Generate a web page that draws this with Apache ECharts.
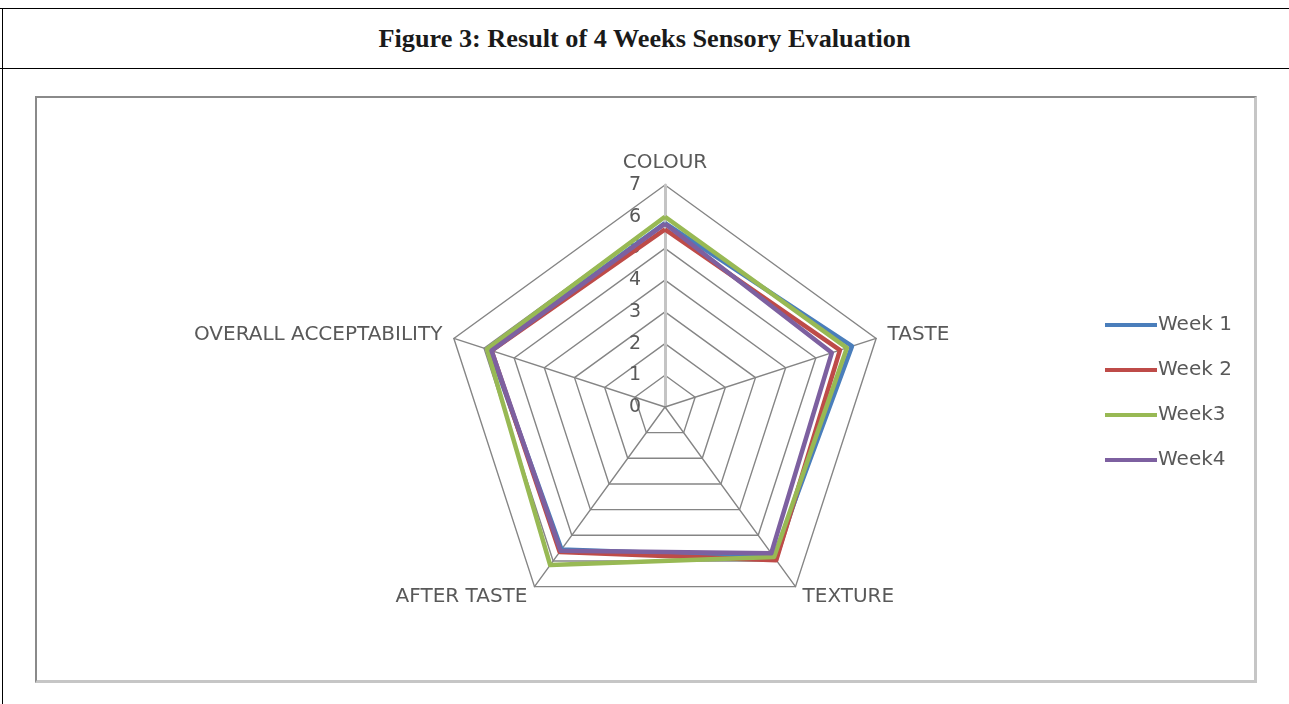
<!DOCTYPE html>
<html>
<head>
<meta charset="utf-8">
<script src="https://cdn.jsdelivr.net/npm/echarts@6/dist/echarts.min.js"></script>
<style>
  html, body { margin: 0; padding: 0; background: #fff; }
  #page { position: relative; width: 1289px; height: 704px; overflow: hidden; }
  .hline { position: absolute; left: 0; width: 1289px; height: 1px; background: #000; }
  .vline { position: absolute; width: 1px; background: #000; }
  #title { position: absolute; left: 0; top: 8px; width: 1289px; height: 60px; line-height: 62px;
           text-align: center; font-family: "Liberation Serif", "DejaVu Serif", serif; font-weight: bold;
           font-size: 25px; color: #1a1a1a; transform: scaleX(1.05); }
  #box { position: absolute; left: 35px; top: 96px; width: 1217px; height: 582px;
         border-top: 2px solid #8a8a8a; border-left: 2px solid #8a8a8a;
         border-right: 3px solid #c6c6c6; border-bottom: 3px solid #c6c6c6; }
  #chart { position: absolute; left: 0; top: 0; width: 1289px; height: 704px; }
</style>
</head>
<body>
<div id="page">
  <div class="hline" style="top:8px"></div>
  <div class="hline" style="top:68px"></div>
  <div class="vline" style="left:2px; top:8px; height:696px"></div>
  <div id="title">Figure 3: Result of 4 Weeks Sensory Evaluation</div>
  <div id="box"></div>
  <div id="chart"></div>
</div>
<script>
// ---- data (clockwise from top) ----
var attributes = ["COLOUR", "TASTE", "TEXTURE", "AFTER TASTE", "OVERALL ACCEPTABILITY"];
var seriesNames = ["Week 1", "Week 2", "Week3", "Week4"];
var week1 = [5.8, 6.2, 5.85, 5.55, 5.8];
var week2 = [5.6, 5.8, 5.97, 5.65, 5.75];
var week3 = [6.0, 6.03, 5.85, 6.16, 5.9];
var week4 = [5.78, 5.53, 5.7, 5.6, 5.75];
var axisMax = 7;
var colors = ["#4a7ebb", "#be4b48", "#98b954", "#7d60a0"];

var weeks = [week1, week2, week3, week4];
// ECharts radar runs counter-clockwise; reorder so the attributes run clockwise
var order = [0].concat(attributes.map(function (_, i) { return i; }).slice(1).reverse());

var chart = echarts.init(document.getElementById('chart'), null, { renderer: 'canvas' });

var indicators = order.map(function (i) {
  var ind = { name: attributes[i], min: 0, max: axisMax };
  if (i === 0) {
    ind.axisLabel = { show: true };
    ind.axisLine = { show: true, lineStyle: { color: '#c4c4c4', width: 3 } };
  }
  return ind;
});

var option = {
  animation: false,
  color: colors,
  legend: {
    orient: 'vertical',
    left: 1100,
    top: 309,
    icon: 'rect',
    itemWidth: 52,
    itemHeight: 4,
    itemGap: 23,
    textStyle: { fontFamily: 'DejaVu Sans', fontSize: 20, color: '#595959', padding: [0, 0, 0, -4], lineHeight: 22 },
    data: seriesNames
  },
  radar: {
    center: [665, 407],
    radius: 222,
    startAngle: 90,
    shape: 'polygon',
    splitNumber: axisMax,
    nameGap: 12,
    axisName: { color: '#595959', fontFamily: 'DejaVu Sans', fontSize: 20 },
    splitArea: { show: false },
    splitLine: { lineStyle: { color: '#858585', width: 1.4 } },
    axisLine: { show: true, lineStyle: { color: '#858585', width: 1.4 } },
    axisTick: { show: false },
    axisLabel: { show: false, color: '#595959', fontFamily: 'DejaVu Sans', fontSize: 19, margin: 24 },
    indicator: indicators
  },
  series: [{
    type: 'radar',
    symbol: 'none',
    lineStyle: { width: 4.5 },
    data: weeks.map(function (w, k) {
      return {
        name: seriesNames[k],
        value: order.map(function (i) { return w[i]; }),
        lineStyle: { color: colors[k], width: 4.5 }
      };
    })
  }]
};
chart.setOption(option);
</script>
</body>
</html>
